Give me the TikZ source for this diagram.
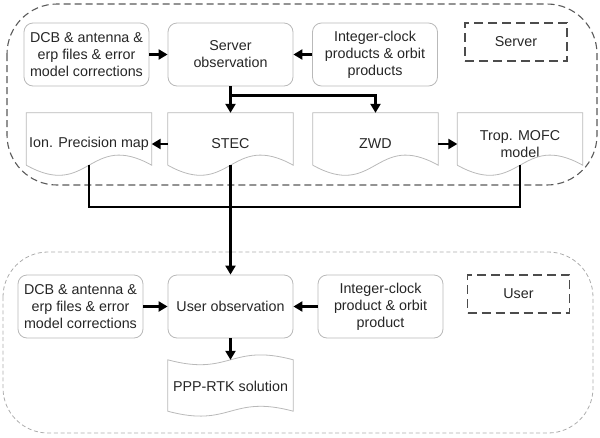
\documentclass[tikz,border=0pt]{standalone}
\usepackage{fontspec}
\setmainfont{Liberation Sans}
\usetikzlibrary{calc,arrows.meta}

\begin{document}
\begin{tikzpicture}[x=1pt, y=-1pt,
  every node/.style={font=\fontsize{14.3pt}{17pt}\selectfont, text=black!85},
  box/.style={draw=gray!55, line width=0.8pt, rounded corners=9pt, minimum width=125pt, minimum height=63pt, align=center, inner sep=2pt},
  doc/.style={minimum width=125pt, minimum height=62pt, align=center, inner sep=2pt},
  docline/.style={draw=gray!55, line width=0.8pt},
  tag/.style={draw=black!70, line width=1.4pt, dash pattern=on 9pt off 5pt, minimum width=102pt, minimum height=38pt},
  conn/.style={line width=2.2pt},
  arr/.style={conn, -{Triangle[length=9pt,width=10pt]}}]
  \useasboundingbox (0,0) rectangle (600,437);
  % containers
  \draw[black!65, line width=1.1pt, dash pattern=on 7pt off 4pt, rounded corners=50pt] (7,4) rectangle (597,185);
  \draw[gray!65, line width=0.8pt, dash pattern=on 4pt off 2.7pt, rounded corners=45pt] (3,252) rectangle (593,433);
  % server part
  \node[box] (srvdcb) at (86.5,54.5) {DCB \& antenna \&\\erp files \& error\\model corrections};
  \node[box] (srvobs) at (230.5,54.5) {Server\\observation};
  \node[box] (srvclk) at (375,54.5) {Integer-clock\\products \& orbit\\products};
  \node[tag] (srvtag) at (516,42) {Server};
  \node[doc] (ion) at (89,144) {Ion. Precision map};
  \node[doc] (stec) at (230.5,144) {STEC};
  \node[doc] (zwd) at (375.5,144) {ZWD};
  \node[doc] (trop) at (520,144) {Trop. MOFC\\model};
  \draw[docline] ([yshift=10pt]ion.south west) -- (ion.north west) -- (ion.north east) -- ([yshift=10pt]ion.south east) .. controls ([yshift=45pt]ion.south) and ([yshift=-25pt]ion.south) .. ([yshift=10pt]ion.south west);
  \draw[docline] ([yshift=10pt]stec.south west) -- (stec.north west) -- (stec.north east) -- ([yshift=10pt]stec.south east) .. controls ([yshift=45pt]stec.south) and ([yshift=-25pt]stec.south) .. ([yshift=10pt]stec.south west);
  \draw[docline] ([yshift=10pt]zwd.south west) -- (zwd.north west) -- (zwd.north east) -- ([yshift=10pt]zwd.south east) .. controls ([yshift=45pt]zwd.south) and ([yshift=-25pt]zwd.south) .. ([yshift=10pt]zwd.south west);
  \draw[docline] ([yshift=10pt]trop.south west) -- (trop.north west) -- (trop.north east) -- ([yshift=10pt]trop.south east) .. controls ([yshift=45pt]trop.south) and ([yshift=-25pt]trop.south) .. ([yshift=10pt]trop.south west);
  % user part
  \node[box] (usrdcb) at (80.5,306.5) {DCB \& antenna \&\\erp files \& error\\model corrections};
  \node[box] (usrobs) at (230.5,306.5) {User observation};
  \node[box] (usrclk) at (380.5,306.5) {Integer-clock\\product \& orbit\\product};
  \node[tag] (usrtag) at (518.5,294) {User};
  \node[doc] (ppp) at (230.5,386) {PPP-RTK solution};
  \draw[docline] ([yshift=-5pt]ppp.north west) .. controls ([yshift=-22pt]ppp.north) and ([yshift=12pt]ppp.north) .. ([yshift=-5pt]ppp.north east) -- ([yshift=6pt]ppp.south east) .. controls ([yshift=23pt]ppp.south) and ([yshift=-11pt]ppp.south) .. ([yshift=6pt]ppp.south west) -- cycle;
  % connectors
  \coordinate (split) at ($(srvobs.south)+(0,9)$);
  \draw[arr] (srvdcb) -- (srvobs);
  \draw[arr] (srvclk) -- (srvobs);
  \draw[arr] (srvobs) -- (stec);
  \draw[arr] (split) -| (zwd.north);
  \draw[arr] (stec) -- (ion);
  \draw[arr] (zwd) -- (trop);
  \draw[conn] ([yshift=10pt]ion.south) -- ++(0,42) -| ([yshift=10pt]trop.south);
  \draw[arr] ([yshift=10pt]stec.south) -- (usrobs.north);
  \draw[arr] (usrdcb) -- (usrobs);
  \draw[arr] (usrclk) -- (usrobs);
  \draw[arr] (usrobs) -- ([yshift=-5pt]ppp.north);
\end{tikzpicture}
\end{document}
